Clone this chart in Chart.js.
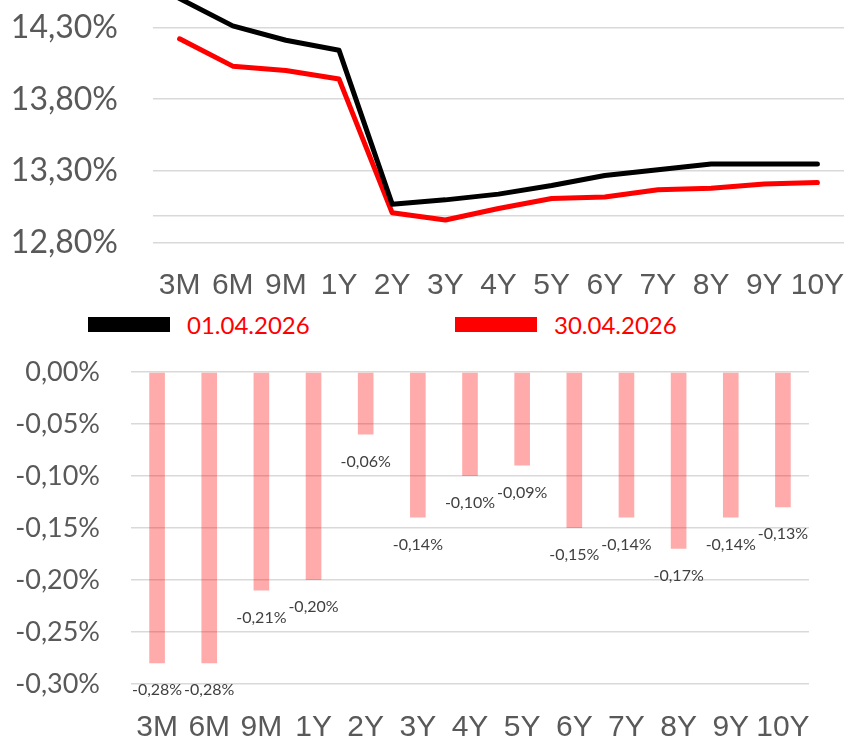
<!DOCTYPE html>
<html>
<head>
<meta charset="utf-8">
<script src="https://cdn.jsdelivr.net/npm/chart.js@4.4.1/dist/chart.umd.min.js"></script>
<style>
    body { margin: 0; background: #fff; }
    #wrap { position: relative; width: 844px; height: 740px; overflow: hidden; }
    #curveBox { position: absolute; left: 0; top: 0; width: 844px; height: 305px; }
    #legendBox { position: absolute; left: 0; top: 305px; width: 844px; height: 40px; }
    #changeBox { position: absolute; left: 0; top: 345px; width: 844px; height: 401px; }
    .legend-item { position: absolute; top: 5px; display: flex; align-items: center; height: 29px; }
    .legend-swatch { width: 82px; height: 15px; margin-right: 17px; }
    .legend-text { font: 24px Lato, sans-serif; color: #FF0000; line-height: 29px; }
</style>
</head>
<body>
<div id="wrap">
    <div id="curveBox"><canvas id="curveChart"></canvas></div>
    <div id="legendBox"></div>
    <div id="changeBox"><canvas id="changeChart"></canvas></div>
</div>
<script>
// tenors of the curve
const tenors = ['3M', '6M', '9M', '1Y', '2Y', '3Y', '4Y', '5Y', '6Y', '7Y', '8Y', '9Y', '10Y'];

// yields, %
const seriesNames = ['01.04.2026', '30.04.2026'];
const rates0104 = [14.50, 14.31, 14.21, 14.14, 13.07, 13.10, 13.14, 13.20, 13.27, 13.31, 13.35, 13.35, 13.35];
const rates3004 = [14.22, 14.03, 14.00, 13.94, 13.01, 12.96, 13.04, 13.11, 13.12, 13.17, 13.18, 13.21, 13.22];

// change over the month, %
const changes = [-0.28, -0.28, -0.21, -0.20, -0.06, -0.14, -0.10, -0.09, -0.15, -0.14, -0.17, -0.14, -0.13];

// axis ticks
const curveTicks = [12.80, 13.30, 13.80, 14.30];
const curveExtraGrid = [12.99];
const changeTicks = [0, -0.05, -0.10, -0.15, -0.20, -0.25, -0.30];

const axisGrey = '#595959';
const gridGrey = '#D9D9D9';
const narrowFont = "'Liberation Sans Narrow', 'Arial Narrow', sans-serif";

function fmtPct(v) {
    return v.toFixed(2).replace('.', ',') + '%';
}

// keep label overhang from shrinking the plot area
function noScalePadding(scale) {
    scale.paddingTop = 0;
    scale.paddingBottom = 0;
    scale.paddingLeft = 0;
    scale.paddingRight = 0;
}

function fixHeight(h) {
    return scale => {
        scale.height = h;
        noScalePadding(scale);
    };
}

function renderCurve() {
    const ctx = document.getElementById('curveChart').getContext('2d');
    return new Chart(ctx, {
        type: 'line',
        data: {
            labels: tenors,
            datasets: [
                { label: seriesNames[0], data: rates0104, borderColor: '#000000', backgroundColor: '#000000' },
                { label: seriesNames[1], data: rates3004, borderColor: '#FF0000', backgroundColor: '#FF0000' }
            ]
        },
        options: {
            responsive: true,
            maintainAspectRatio: false,
            animation: false,
            layout: { padding: 0 },
            elements: {
                line: { borderWidth: 5, tension: 0, borderCapStyle: 'round', borderJoinStyle: 'round' },
                point: { radius: 0, hoverRadius: 0 }
            },
            plugins: { legend: { display: false }, tooltip: { enabled: false } },
            scales: {
                x: {
                    offset: true,
                    grid: { display: false, drawTicks: false },
                    border: { display: false },
                    ticks: { color: axisGrey, font: { family: narrowFont, size: 30 }, padding: 25, maxRotation: 0, autoSkip: false },
                    afterFit: fixHeight(62)
                },
                y: {
                    min: 12.80,
                    max: 14.49,
                    grid: { color: gridGrey, lineWidth: 1.5, drawTicks: false },
                    border: { display: false },
                    ticks: {
                        color: axisGrey,
                        font: { family: 'Lato', size: 32 },
                        padding: 35,
                        callback: v => curveTicks.some(t => Math.abs(t - v) < 1e-6) ? fmtPct(v) : ''
                    },
                    afterBuildTicks: scale => {
                        scale.ticks = curveTicks.concat(curveExtraGrid).sort((a, b) => a - b).map(v => ({ value: v }));
                    },
                    afterFit: scale => {
                        scale.width = 153;
                        noScalePadding(scale);
                    }
                }
            }
        }
    });
}

function renderLegend(chart) {
    const box = document.getElementById('legendBox');
    const lefts = [88, 455];
    chart.data.datasets.forEach((ds, i) => {
        const item = document.createElement('div');
        item.className = 'legend-item';
        item.style.left = lefts[i] + 'px';
        const swatch = document.createElement('span');
        swatch.className = 'legend-swatch';
        swatch.style.background = ds.borderColor;
        const text = document.createElement('span');
        text.className = 'legend-text';
        text.textContent = ds.label;
        item.appendChild(swatch);
        item.appendChild(text);
        box.appendChild(item);
    });
}

// value labels under each bar end
const barValueLabels = {
    id: 'barValueLabels',
    afterDatasetsDraw(chart) {
        const ctx = chart.ctx;
        const meta = chart.getDatasetMeta(0);
        const values = chart.data.datasets[0].data;
        ctx.save();
        ctx.font = '16px Lato';
        ctx.fillStyle = '#404040';
        ctx.textAlign = 'center';
        ctx.textBaseline = 'middle';
        meta.data.forEach((bar, i) => {
            ctx.fillText(fmtPct(values[i]), bar.x, bar.y + 27);
        });
        ctx.restore();
    }
};

function renderChanges() {
    const ctx = document.getElementById('changeChart').getContext('2d');
    return new Chart(ctx, {
        type: 'bar',
        data: {
            labels: tenors,
            datasets: [{
                label: 'Change',
                data: changes,
                backgroundColor: 'rgba(255, 0, 0, 0.33)',
                borderWidth: 0,
                barPercentage: 0.3,
                categoryPercentage: 1
            }]
        },
        options: {
            responsive: true,
            maintainAspectRatio: false,
            animation: false,
            layout: { padding: { top: 27, right: 35, left: 0, bottom: 0 } },
            plugins: { legend: { display: false }, tooltip: { enabled: false } },
            scales: {
                x: {
                    grid: { display: false, drawTicks: false },
                    border: { display: false },
                    ticks: { color: axisGrey, font: { family: narrowFont, size: 30 }, padding: 26, maxRotation: 0, autoSkip: false },
                    afterFit: fixHeight(62)
                },
                y: {
                    min: -0.30,
                    max: 0,
                    grid: { color: gridGrey, lineWidth: 1.5, drawTicks: false },
                    border: { display: false },
                    ticks: { color: axisGrey, font: { family: 'Lato', size: 27 }, padding: 31, callback: v => fmtPct(v) },
                    afterBuildTicks: scale => {
                        scale.ticks = changeTicks.map(v => ({ value: v }));
                    },
                    afterFit: scale => {
                        scale.width = 131;
                        noScalePadding(scale);
                    }
                }
            }
        },
        plugins: [barValueLabels]
    });
}

const curveChart = renderCurve();
renderLegend(curveChart);
renderChanges();
</script>
</body>
</html>
